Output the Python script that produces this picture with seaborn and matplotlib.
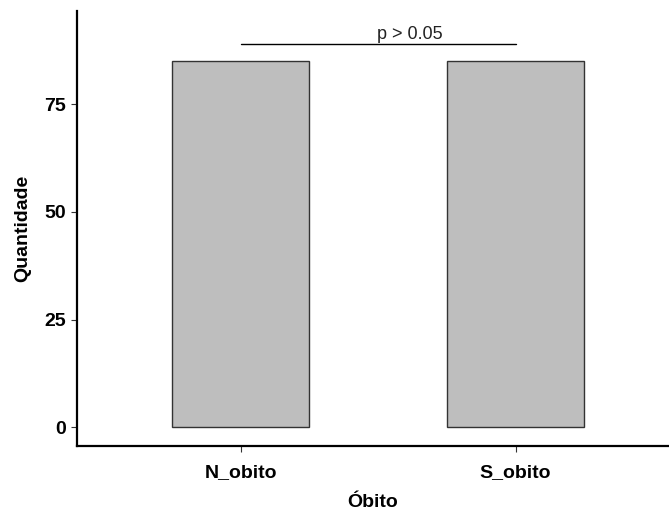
import matplotlib
matplotlib.use("Agg")
import matplotlib.pyplot as plt
import seaborn as sns
import pandas as pd

categories = ["N_obito", "S_obito"]
counts = [85, 85]
p_label = "p > 0.05"
bracket_y = 89
yticks = [0, 25, 50, 75]

sns.set_style("white")
plt.rcParams['font.family'] = ['Liberation Sans', 'DejaVu Sans']

df = pd.DataFrame({"Óbito": categories, "Quantidade": counts})

fig = plt.figure(figsize=(6.69, 5.12), dpi=100)
ax = fig.add_axes([77/669, (512-446)/512, (669-77)/669, (446-10.7)/512])

sns.barplot(data=df, x="Óbito", y="Quantidade", width=0.5, color="#BEBEBE",
            edgecolor="#333333", linewidth=1.0, saturation=1, ax=ax)

ax.set_xlim(-0.5945, 1.558)
ax.set_ylim(-4.34, 96.7)
ax.set_yticks(yticks)
ax.set_yticklabels([str(v) for v in yticks])

for s in ["top", "right"]:
    ax.spines[s].set_visible(False)
for s in ["left", "bottom"]:
    ax.spines[s].set_linewidth(1.6)
    ax.spines[s].set_color("black")

ax.tick_params(axis="both", which="major", length=4, width=0.8, color="#333333",
               labelsize=14, bottom=True, left=True)
ax.tick_params(axis="x", pad=9)
ax.tick_params(axis="y", pad=4)
for lab in ax.get_xticklabels() + ax.get_yticklabels():
    lab.set_fontweight("bold")
    lab.set_color("black")

ax.set_xlabel("Óbito", fontsize=14, fontweight="bold", labelpad=9, color="black")
ax.set_ylabel("Quantidade", fontsize=14, fontweight="bold", labelpad=9, color="black")

# significance bracket
ax.plot([0, 1], [bracket_y, bracket_y], color="black", linewidth=1.0)
ax.text(0.616, bracket_y + 0.2, p_label, ha="center", va="bottom", fontsize=13, color="#222222")

fig.savefig("out.png", dpi=100)
